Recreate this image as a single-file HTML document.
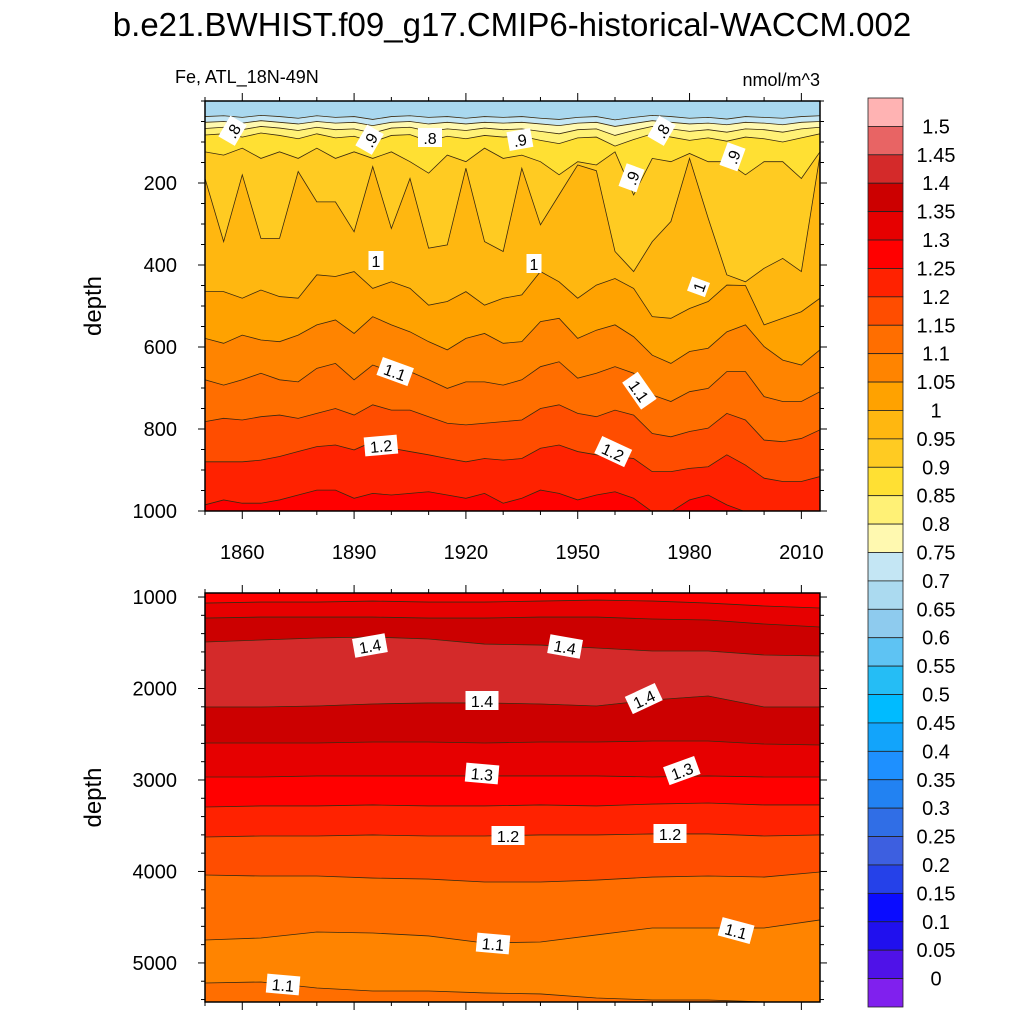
<!DOCTYPE html>
<html><head><meta charset="utf-8">
<style>
html,body{margin:0;padding:0;background:#fff;}
svg{display:block;font-family:"Liberation Sans",Arial,sans-serif;}
</style></head>
<body>
<svg id="chart" width="1024" height="1024" viewBox="0 0 1024 1024" xmlns="http://www.w3.org/2000/svg">
<text x="512" y="36" font-size="33" text-anchor="middle">b.e21.BWHIST.f09_g17.CMIP6-historical-WACCM.002</text>
<text x="175" y="83" font-size="18">Fe, ATL_18N-49N</text>
<text x="820" y="86" font-size="18" text-anchor="end">nmol/m^3</text>
<g id="top"></g>
<g id="bot"></g>
<g id="cbar"></g>
</svg>
<script>
const NS="http://www.w3.org/2000/svg";
// ---- data: upper panel (0-1000 m), samples every 5 years ----
const topYears=[1850,1855,1860,1865,1870,1875,1880,1885,1890,1895,1900,1905,1910,1915,1920,1925,1930,1935,1940,1945,1950,1955,1960,1965,1970,1975,1980,1985,1990,1995,2000,2005,2010,2015];
const c070=[38,36,40,35,38,42,36,40,38,45,38,36,40,38,42,38,40,38,42,45,40,38,46,40,35,38,42,40,44,38,40,42,38,36];
const c075=[52,50,54,48,52,56,50,54,52,60,52,50,56,52,56,52,54,52,56,60,54,52,62,55,48,52,56,54,58,52,54,58,52,50];
const c080=[67,64,70,62,66,72,64,70,68,78,66,64,74,68,72,66,70,68,74,80,70,68,84,72,62,68,74,70,76,68,70,76,68,64];
const c085=[83,80,88,78,84,92,80,90,86,100,84,82,98,86,92,84,88,86,96,104,90,88,110,94,80,88,96,90,98,88,92,100,90,80];
const c090=[124,132,115,140,124,140,115,140,124,140,124,148,176,132,148,115,140,132,148,180,148,156,124,229,140,148,128,148,148,180,148,148,189,124];
const c095=[189,343,180,335,335,172,246,246,319,160,311,189,359,351,164,343,367,164,302,229,156,170,367,416,343,294,140,286,424,441,408,384,416,132];
const c100=[465,465,481,461,477,481,424,428,416,457,441,457,498,489,465,498,481,473,416,441,481,449,433,457,526,530,506,489,449,450,546,530,514,481];
const c105=[579,591,571,583,587,571,546,534,567,526,546,563,587,607,579,567,591,587,538,530,579,559,546,575,620,640,611,603,563,546,599,632,644,607];
const c110=[680,693,680,664,680,685,652,640,680,644,660,660,680,701,685,685,693,680,648,636,676,664,648,664,717,733,709,701,660,660,721,733,733,709];
const c115=[782,774,778,770,766,774,762,750,766,741,754,754,770,786,790,786,782,778,750,741,762,770,754,766,811,819,806,798,762,778,827,831,823,802];
const c120=[880,880,880,876,867,855,843,839,851,831,847,855,863,872,880,872,876,872,847,839,855,863,867,872,904,904,896,892,863,888,920,928,928,916];
const c125=[985,973,981,981,973,961,949,949,969,957,961,957,953,961,969,957,981,969,949,957,973,961,953,969,1002,1002,973,961,985,1002,1010,1010,1010,1010];
const topBandColors=["#a9d8ef","#c4e6f4","#fff9b0","#fff176","#ffe033","#ffcb22","#ffb710","#ffa200","#ff8400","#ff6e00","#ff4d00","#ff2200","#ff0000"];
// ---- data: lower panel, samples every 15 years ----
const botYears=[1850,1865,1880,1895,1910,1925,1940,1955,1970,1985,2000,2015];
const b1=[1066,1055,1055,1044,1055,1055,1044,1033,1044,1066,1098,1120];
const b2=[1230,1219,1219,1219,1230,1230,1219,1219,1240,1251,1295,1328];
const b3=[1492,1470,1448,1437,1459,1514,1525,1557,1590,1590,1634,1645];
const b4=[2202,2202,2191,2169,2158,2158,2169,2191,2126,2082,2202,2202];
const b5=[2596,2596,2596,2585,2585,2596,2585,2585,2574,2574,2607,2618];
const b6=[2967,2967,2956,2956,2956,2956,2956,2956,2967,2956,2967,2967];
const b7=[3295,3284,3284,3273,3284,3284,3273,3284,3263,3252,3273,3273];
const b8=[3623,3612,3612,3601,3612,3612,3601,3601,3590,3590,3612,3601];
const b9=[4039,4050,4050,4072,4083,4115,4115,4094,4061,4050,4061,4006];
const b10=[4749,4727,4662,4673,4705,4782,4771,4694,4618,4618,4618,4530];
const b11=[5219,5208,5274,5307,5307,5328,5339,5383,5405,5405,5427,5427];
const botBandColors=["#ff0000","#e60000","#cc0000","#d42a2a","#cc0000","#e60000","#ff0000","#ff2200","#ff4d00","#ff6e00","#ff8400","#ff6e00"];
// ---- colorbar ----
const cbColors=["#ffb3b3","#e86464","#d42a2a","#cc0000","#e60000","#ff0000","#ff2200","#ff4d00","#ff6e00","#ff8400","#ffa200","#ffb710","#ffcb22","#ffe033","#fff176","#fff9b0","#c4e6f4","#abdaf0","#8ecbee","#5ec3f3","#25bdf5","#00bbff","#12a4fb","#1e90ff","#2282f2","#306ee6","#3d5fe0","#2541e9","#0a0cff","#2010ee","#4f12e8","#8020ee"];
const cbLabels=["1.5","1.45","1.4","1.35","1.3","1.25","1.2","1.15","1.1","1.05","1","0.95","0.9","0.85","0.8","0.75","0.7","0.65","0.6","0.55","0.5","0.45","0.4","0.35","0.3","0.25","0.2","0.15","0.1","0.05","0"];
const xTicks=[1860,1890,1920,1950,1980,2010];

const X0=205,X1=820,YR0=1850,YR1=2015;
const xs=y=>X0+(y-YR0)*(X1-X0)/(YR1-YR0);
function el(tag,attrs,parent){const e=document.createElementNS(NS,tag);for(const k in attrs)e.setAttribute(k,attrs[k]);parent.appendChild(e);return e;}

function drawPanel(g,id,top,bot,d0,d1,years,lines,colors,yt,minorStep,labels){
  const ys=d=>top+(d-d0)*(bot-top)/(d1-d0);
  const cp=el('clipPath',{id:'clip'+id},g);
  el('rect',{x:X0,y:top,width:X1-X0,height:bot-top},cp);
  const cg=el('g',{'clip-path':'url(#clip'+id+')'},g);
  const bounds=[years.map(()=>d0-50)].concat(lines).concat([years.map(()=>d1+50)]);
  for(let b=0;b<bounds.length-1;b++){
    const up=bounds[b],lo=bounds[b+1];
    let pts=years.map((yr,i)=>xs(yr)+','+ys(up[i]));
    pts=pts.concat(years.map((yr,i)=>xs(yr)+','+ys(lo[i])).reverse());
    const p=el('polygon',{points:pts.join(' '),fill:colors[b],stroke:colors[b],'stroke-width':0.5},cg);
    
    
  }
  lines.forEach(L=>{
    const pl=el('polyline',{points:years.map((yr,i)=>xs(yr)+','+ys(L[i])).join(' '),fill:'none',stroke:'#3a2a10','stroke-width':0.8},cg);
    
    
  });
  labels.forEach(l=>{
    const lg=el('g',{transform:`translate(${l[1]},${l[2]}) rotate(${l[3]})`},g);
    
    
    const w=l[0].length*9+6;
    el('rect',{x:-w/2,y:-10,width:w,height:19,fill:'#fff'},lg);
    const t=el('text',{x:0,y:6,'font-size':16,'text-anchor':'middle'},lg);t.textContent=l[0];
  });
  const f=el('rect',{x:X0,y:top,width:X1-X0,height:bot-top,fill:'none',stroke:'#000','stroke-width':1.5},g);
  
  
  for(let d=Math.ceil(d0/minorStep)*minorStep;d<=d1;d+=minorStep){
    const y=ys(d),maj=yt.includes(d),len=maj?7:4;
    el('line',{x1:X0-len,x2:X0,y1:y,y2:y,stroke:'#000','stroke-width':1},g);
    el('line',{x1:X1,x2:X1+len,y1:y,y2:y,stroke:'#000','stroke-width':1},g);
  }
  yt.forEach(d=>{const t=el('text',{x:X0-28,y:ys(d)+7,'font-size':20,'text-anchor':'end'},g);t.textContent=d;
    });
  for(let yr=1850;yr<=2015;yr+=10){
    const x=xs(yr),maj=xTicks.includes(yr),len=maj?8:4;
    el('line',{x1:x,x2:x,y1:top-len,y2:top,stroke:'#000','stroke-width':1},g);
    el('line',{x1:x,x2:x,y1:bot,y2:bot+len,stroke:'#000','stroke-width':1},g);
  }
  const yl=el('text',{x:0,y:0,'font-size':24,'text-anchor':'middle',transform:`translate(101,${(top+bot)/2}) rotate(-90)`},g);
  yl.textContent='depth';
  
  
}
const topLabels=[[".8",233,131,-60],[".9",370,140,-60],[".8",430,138,0],[".9",520,140,-10],[".8",662,131,-60],[".9",733,157,-70],[".9",632,178,-70],["1",376,261,0],["1",534,264,0],["1",699,287,-70],["1.1",395,372,20],["1.1",639,391,55],["1.2",381,446,-5],["1.2",613,452,25]];
drawPanel(document.getElementById('top'),'t',101,511,0,1000,topYears,[c070,c075,c080,c085,c090,c095,c100,c105,c110,c115,c120,c125],topBandColors,[200,400,600,800,1000],50,topLabels);
const botLabels=[["1.4",370,646,-10],["1.4",565,647,10],["1.4",482,701,0],["1.4",644,699,-25],["1.3",482,774,5],["1.3",682,771,-20],["1.2",508,836,0],["1.2",670,834,0],["1.1",493,944,5],["1.1",736,931,15],["1.1",283,985,5]];
drawPanel(document.getElementById('bot'),'b',593,1002,956,5427,botYears,[b1,b2,b3,b4,b5,b6,b7,b8,b9,b10,b11],botBandColors,[1000,2000,3000,4000,5000],200,botLabels);
const tg=document.getElementById('top');
xTicks.forEach(yr=>{const t=el('text',{x:xs(yr),y:559,'font-size':20,'text-anchor':'middle'},tg);t.textContent=yr;
  });
const cb=document.getElementById('cbar');
const cbTop=98,cbH=(1007-98)/cbColors.length;
cbColors.forEach((c,i)=>{const r=el('rect',{x:868,y:cbTop+i*cbH,width:35,height:cbH,fill:c,stroke:'#222','stroke-width':0.8},cb);
  });
cbLabels.forEach((s,i)=>{const t=el('text',{x:936,y:cbTop+(i+1)*cbH+7,'font-size':20,'text-anchor':'middle'},cb);t.textContent=s;
  });
</script>
</body></html>
